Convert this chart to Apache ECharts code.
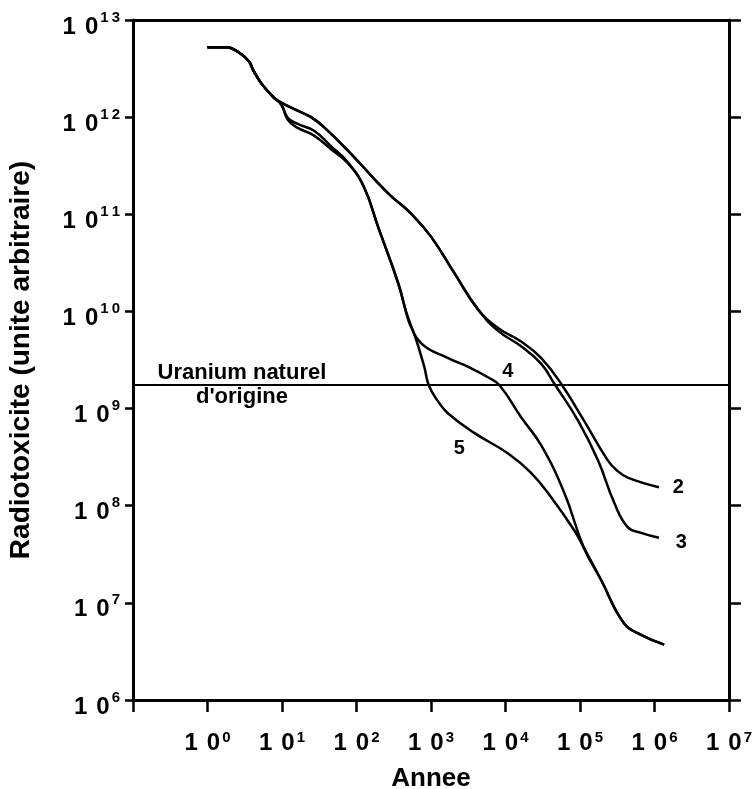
<!DOCTYPE html>
<html>
<head>
<meta charset="utf-8">
<script src="https://cdn.jsdelivr.net/npm/echarts@6/dist/echarts.min.js"></script>
<style>html,body{margin:0;padding:0;background:#fff;}#c{width:756px;height:789px;}</style>
</head>
<body>
<div id="c"></div>
<script>
// Years (Annee) and radiotoxicity values
const years2 = [1, 1.778, 2.818, 3.631, 4.074, 5.248, 7.586, 9.772, 18.20, 24.55, 36.31, 85.11, 195.0, 288.4, 537.0, 1000, 2042, 4266, 7943, 16218, 30200, 57544, 112202, 234423, 316228, 436516, 1148154];
const vals2  = [5.25e12, 5.25e12, 4.47e12, 3.72e12, 3.09e12, 2.24e12, 1.62e12, 1.41e12, 1.12e12, 1.0e12, 7.94e11, 4.17e11, 2.09e11, 1.55e11, 1.02e11, 5.89e10, 2.51e10, 1.05e10, 6.76e9, 4.90e9, 3.31e9, 1.74e9, 7.59e8, 2.95e8, 2.29e8, 1.95e8, 1.55e8];

const years3 = [1, 1.778, 2.818, 3.631, 4.074, 5.248, 7.586, 9.772, 18.20, 24.55, 36.31, 85.11, 195.0, 288.4, 537.0, 1000, 2042, 4266, 7943, 16218, 30200, 45709, 93325, 173780, 288403, 436516, 660693, 1148154];
const vals3  = [5.25e12, 5.25e12, 4.47e12, 3.72e12, 3.09e12, 2.24e12, 1.62e12, 1.41e12, 1.12e12, 1.0e12, 7.94e11, 4.17e11, 2.09e11, 1.55e11, 1.02e11, 5.89e10, 2.51e10, 1.05e10, 6.31e9, 4.37e9, 2.88e9, 1.78e9, 7.59e8, 2.95e8, 1.07e8, 6.03e7, 5.25e7, 4.68e7];

const years4 = [1, 1.778, 2.818, 3.631, 4.074, 5.248, 7.586, 9.772, 12.02, 16.22, 26.92, 45.71, 77.62, 125.9, 195.0, 363.1, 501.2, 741.3, 1698, 3162, 5888, 8318, 16218, 30200, 61660, 112202, 190546, 389045, 660693, 1348963];
const vals4  = [5.25e12, 5.25e12, 4.47e12, 3.72e12, 3.09e12, 2.24e12, 1.62e12, 1.35e12, 9.77e11, 8.51e11, 7.24e11, 5.01e11, 3.39e11, 1.91e11, 7.41e10, 1.95e10, 8.32e9, 4.68e9, 3.31e9, 2.69e9, 2.09e9, 1.74e9, 8.13e8, 4.17e8, 1.35e8, 3.72e7, 1.74e7, 6.17e6, 4.68e6, 3.72e6];

const years5 = [1, 1.778, 2.818, 3.631, 4.074, 5.248, 7.586, 9.772, 12.02, 16.22, 26.92, 45.71, 77.62, 125.9, 195.0, 363.1, 501.2, 588.8, 812.8, 933.3, 1230, 1698, 3802, 10715, 21878, 40738, 83176, 112202, 190546, 389045, 660693, 1348963];
const vals5  = [5.25e12, 5.25e12, 4.47e12, 3.72e12, 3.09e12, 2.24e12, 1.62e12, 1.35e12, 9.33e11, 7.76e11, 6.46e11, 4.68e11, 3.31e11, 1.91e11, 7.41e10, 1.95e10, 7.94e9, 6.03e9, 2.69e9, 1.74e9, 1.20e9, 8.91e8, 5.62e8, 3.47e8, 2.19e8, 1.23e8, 5.62e7, 3.72e7, 1.74e7, 6.17e6, 4.68e6, 3.72e6];

const uraniumLevel = 1.75e9;
const curveLabels = ['2', '3', '4', '5'];
const curveLabelYears = [2.09e6, 2.29e6, 10715, 2399];
const curveLabelVals = [1.55e8, 4.17e7, 2.40e9, 3.89e8];
const uraniumText = ['Uranium naturel', "d'origine"];
const uraniumTextYears = [2.9, 2.9];
const uraniumTextVals = [2.32e9, 1.31e9];

const xMin = 0.1, xMax = 1e7, yMin = 1e6, yMax = 1e13;

function zip(a, b) { return a.map((v, i) => [v, b[i]]); }
function sup(v) {
  const e = Math.round(Math.log10(v));
  return String(e).split('').join('\u2009');
}
const FONT = 'Liberation Sans';

const lineStyle = { color: '#000', width: 2.5 };
function curve(name, xs, ys) {
  return { name, type: 'line', data: zip(xs, ys), showSymbol: false, smooth: 0.45,
           lineStyle, xAxisIndex: 0, yAxisIndex: 0, silent: true, z: 3 };
}
const textLabel = (size) => ({
  show: true, position: 'inside', formatter: p => p.name,
  fontFamily: FONT, fontWeight: 'bold', fontSize: size, color: '#000',
  textBorderWidth: 0, opacity: 1
});

const chart = echarts.init(document.getElementById('c'), null, { renderer: 'canvas' });
chart.setOption({
  backgroundColor: '#fff',
  animation: false,
  grid: { left: 133, right: 27, top: 20, bottom: 89, outerBoundsMode: 'none', containLabel: false },
  xAxis: [{
    type: 'log', logBase: 10, min: xMin, max: xMax, interval: 1, splitNumber: 8,
    position: 'bottom',
    name: 'Annee', nameLocation: 'middle', nameGap: 66,
    nameTextStyle: { fontFamily: FONT, fontWeight: 'bold', fontSize: 26, color: '#000' },
    axisLine: { show: true, lineStyle: { color: '#000', width: 3 } },
    axisTick: { show: true, inside: false, length: 12, lineStyle: { color: '#000', width: 2.5 } },
    splitLine: { show: false },
    axisLabel: {
      margin: 30, color: '#000',
      formatter: v => v < 0.5 ? '' : '{a|1}{b|0}{s|' + sup(v) + '}',
      rich: {
        a: { fontFamily: FONT, fontWeight: 'bold', fontSize: 24, lineHeight: 26, color: '#000', padding: [0, 9, 0, 0] },
        b: { fontFamily: FONT, fontWeight: 'bold', fontSize: 24, lineHeight: 26, color: '#000' },
        s: { fontFamily: FONT, fontWeight: 'bold', fontSize: 15, lineHeight: 26, verticalAlign: 'top', padding: [0, 0, 0, 2], color: '#000' }
      }
    }
  }, {
    type: 'log', logBase: 10, min: xMin, max: xMax, position: 'top',
    axisLine: { show: true, lineStyle: { color: '#000', width: 3 } },
    axisTick: { show: false }, axisLabel: { show: false }, splitLine: { show: false }
  }],
  yAxis: [{
    type: 'log', logBase: 10, min: yMin, max: yMax, interval: 1, splitNumber: 7,
    position: 'left',
    name: 'Radiotoxicite (unite arbitraire)', nameLocation: 'middle', nameGap: 98, nameRotate: 90,
    nameTextStyle: { fontFamily: FONT, fontWeight: 'bold', fontSize: 28, color: '#000' },
    axisLine: { show: true, lineStyle: { color: '#000', width: 3 } },
    axisTick: { show: true, inside: false, length: 8, lineStyle: { color: '#000', width: 2.5 } },
    splitLine: { show: false },
    axisLabel: {
      margin: 13, color: '#000', align: 'right',
      formatter: v => '{a|1}{b|0}{s|' + sup(v) + '}',
      rich: {
        a: { fontFamily: FONT, fontWeight: 'bold', fontSize: 24, lineHeight: 26, color: '#000', padding: [14, 9, 0, 0] },
        b: { fontFamily: FONT, fontWeight: 'bold', fontSize: 24, lineHeight: 26, color: '#000', padding: [14, 0, 0, 0] },
        s: { fontFamily: FONT, fontWeight: 'bold', fontSize: 15, lineHeight: 18, verticalAlign: 'top', padding: [3, 0, 0, 2], color: '#000' }
      }
    }
  }, {
    type: 'log', logBase: 10, min: yMin, max: yMax, interval: 1, splitNumber: 7,
    position: 'right',
    axisLine: { show: true, lineStyle: { color: '#000', width: 3 } },
    axisTick: { show: true, inside: false, length: 12, lineStyle: { color: '#000', width: 2.5 } },
    axisLabel: { show: false }, splitLine: { show: false }
  }],
  series: [
    curve('2', years2, vals2),
    curve('3', years3, vals3),
    curve('4', years4, vals4),
    curve('5', years5, vals5),
    {
      name: 'uranium', type: 'line', data: [], xAxisIndex: 0, yAxisIndex: 0, silent: true,
      markLine: {
        silent: true, symbol: ['none', 'none'], animation: false,
        label: { show: false },
        lineStyle: { color: '#000', width: 2, type: 'solid', opacity: 1 },
        emphasis: { disabled: true },
        data: [{ yAxis: uraniumLevel }]
      }
    },
    {
      name: 'curve labels', type: 'scatter', symbolSize: 1, itemStyle: { opacity: 0 }, silent: true,
      xAxisIndex: 0, yAxisIndex: 0,
      data: curveLabels.map((t, i) => ({ value: [curveLabelYears[i], curveLabelVals[i]], name: t })),
      label: textLabel(20)
    },
    {
      name: 'uranium text', type: 'scatter', symbolSize: 1, itemStyle: { opacity: 0 }, silent: true,
      xAxisIndex: 0, yAxisIndex: 0,
      data: uraniumText.map((t, i) => ({ value: [uraniumTextYears[i], uraniumTextVals[i]], name: t })),
      label: textLabel(22)
    }
  ]
});
</script>
</body>
</html>
